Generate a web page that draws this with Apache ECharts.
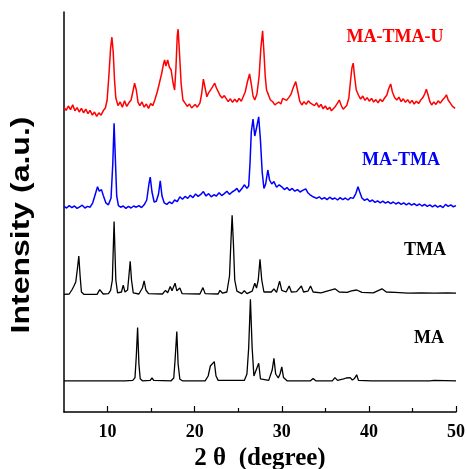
<!DOCTYPE html>
<html><head><meta charset="utf-8">
<script src="https://cdn.jsdelivr.net/npm/echarts@6/dist/echarts.min.js"></script>
<style>html,body{margin:0;padding:0;background:#fff}#c{width:467px;height:469px}</style>
</head><body><div id="c"></div>
<script>
// 2-theta tick labels
const xMajorTicks = [10, 20, 30, 40, 50];
const xMinorTicks = [15, 25, 35, 45];
const seriesNames = ['MA', 'TMA', 'MA-TMA', 'MA-TMA-U'];

// [2theta, intensity (offset, a.u.)]
const MA = [[5,7.8],[8,7.8],[12,7.8],[12.9,7.9],[13.15,8.6],[13.3,14],[13.45,21.1],[13.6,12],[13.75,8.3],[14,7.8],[14.9,7.9],[15.1,8.5],[15.3,7.9],[17.3,7.8],[17.6,8.5],[17.75,13],[17.95,20.1],[18.1,12],[18.3,8.2],[18.6,7.8],[21.2,7.8],[21.55,9],[21.8,11.5],[22.0,11.2],[22.25,12.6],[22.45,9],[22.7,7.9],[25.7,7.9],[26,9.5],[26.2,16],[26.4,28.2],[26.6,16],[26.8,9],[27.0,8.5],[27.35,12.2],[27.55,8.3],[28.5,7.9],[28.9,10.5],[29.1,13.4],[29.3,9.5],[29.6,8.5],[29.8,9.5],[30.0,11.3],[30.2,8.6],[30.6,7.8],[33.3,7.8],[33.6,8.4],[33.9,7.8],[35.8,7.8],[36.1,8.6],[36.4,7.9],[37.1,8.3],[37.4,8.5],[37.6,8.0],[37.85,8.6],[38.1,8.0],[38.35,8.4],[38.6,9.3],[38.8,7.9],[40.3,7.8],[40.5,8.2],[40.7,7.8],[44.9,7.8],[45.1,8.2],[45.3,7.8],[47.0,7.8],[47.2,8.3],[47.5,7.9],[50,7.8]];

const TMA = [[5,29.4],[5.6,29.5],[5.9,30.5],[6.1,31.3],[6.35,32.5],[6.55,36],[6.7,39],[6.85,34],[7.0,30],[7.3,29.4],[8.8,29.4],[9.1,30.6],[9.3,30.8],[9.5,29.5],[10.1,29.6],[10.35,30.4],[10.55,33],[10.75,47.6],[10.95,33],[11.15,29.8],[11.6,30],[11.8,31.7],[12.0,30],[12.3,30.5],[12.45,34],[12.6,37.7],[12.75,33],[12.95,29.8],[13.6,29.5],[14.0,31],[14.2,32.8],[14.4,30.5],[14.7,29.6],[16.3,29.5],[16.65,30.4],[16.9,29.8],[17.2,31.4],[17.4,30.3],[17.75,32.2],[17.95,30.3],[18.3,31],[18.55,29.6],[20.6,29.5],[20.95,31.1],[21.2,29.6],[22.7,29.5],[22.9,30.4],[23.2,29.7],[23.7,30],[24.0,34],[24.15,42],[24.3,49.2],[24.45,42],[24.6,33],[24.85,30.2],[25.4,29.6],[25.7,30.3],[26.0,29.6],[26.6,30.2],[26.9,32.2],[27.1,31],[27.3,33],[27.5,38.2],[27.7,33],[27.95,30],[28.8,30],[29.1,30.8],[29.4,29.9],[29.75,32.7],[30.0,30.4],[30.5,30],[30.85,31.5],[31.1,30],[31.7,30.1],[32.25,31.5],[32.5,30],[33.0,30.2],[33.3,31.5],[33.6,30],[34.5,29.8],[35.3,30.3],[36.1,30.8],[36.6,30],[37.5,29.9],[38.0,30.3],[38.6,30.5],[39.2,29.9],[40.5,29.8],[41.5,30.8],[42.0,30],[43,29.9],[44.5,29.7],[46,29.8],[47.5,29.7],[49,29.8],[50,29.7]];

const MA_TMA = [[5,51.4],[5.3,51.0],[5.6,51.6],[5.9,51.1],[6.2,51.5],[6.5,50.9],[6.8,51.3],[7.1,51.7],[7.4,51.0],[7.7,51.4],[8.0,51.2],[8.3,52.3],[8.6,54.5],[8.85,56.3],[9.05,55.2],[9.3,55.6],[9.5,54.2],[9.8,52.3],[10.1,51.8],[10.4,53.5],[10.6,62],[10.75,72.2],[10.9,63],[11.05,54],[11.25,51.6],[11.5,51.2],[11.8,51.5],[12.1,50.9],[12.4,51.4],[12.7,51.0],[13.0,51.5],[13.3,51.2],[13.6,51.6],[13.9,51.1],[14.2,51.8],[14.5,53],[14.75,57],[14.9,58.7],[15.1,55],[15.35,52.5],[15.6,52.7],[15.85,54.5],[16.05,57.8],[16.25,54],[16.5,52.3],[16.8,51.9],[17.1,52.5],[17.4,52.1],[17.7,53.0],[18.0,52.6],[18.3,53.8],[18.6,53.2],[18.9,53.9],[19.2,53.4],[19.5,54.2],[19.8,53.6],[20.1,54.5],[20.4,53.9],[20.7,54.4],[21.0,55.1],[21.3,54.0],[21.6,54.6],[21.9,53.8],[22.2,54.3],[22.5,54.0],[22.8,54.8],[23.1,54.1],[23.4,54.6],[23.7,55.2],[24.0,54.4],[24.3,55.0],[24.6,55.4],[24.85,55.9],[25.1,55.0],[25.4,55.8],[25.7,56.8],[26.0,55.9],[26.2,56.5],[26.35,62],[26.5,70],[26.7,73.2],[26.9,69],[27.1,71],[27.35,73.8],[27.55,68],[27.75,60],[27.95,55.9],[28.15,57],[28.4,60.5],[28.6,58],[28.85,57.0],[29.1,57.6],[29.4,56.2],[29.7,56.8],[30.0,56.3],[30.3,55.6],[30.6,56.1],[30.9,55.4],[31.2,55.9],[31.5,55.2],[31.8,55.6],[32.1,55.0],[32.4,55.4],[32.75,55.8],[33.0,54.8],[33.3,54.2],[33.6,53.8],[34.0,53.4],[34.3,53.8],[34.6,53.2],[34.9,53.6],[35.2,53.1],[35.5,53.7],[35.8,53.2],[36.1,53.5],[36.4,53.0],[36.7,53.6],[37.0,53.1],[37.3,53.5],[37.6,53.0],[37.9,53.6],[38.2,53.4],[38.5,54.6],[38.75,56.3],[38.95,55],[39.2,53.5],[39.5,52.9],[39.8,53.3],[40.1,52.6],[40.4,53.0],[40.7,52.4],[41.0,52.8],[41.3,52.3],[41.6,52.7],[41.9,52.2],[42.2,52.6],[42.5,52.1],[42.8,52.5],[43.1,52.0],[43.4,52.4],[43.7,51.9],[44.0,52.3],[44.3,51.8],[44.6,52.2],[44.9,51.7],[45.2,52.1],[45.5,51.6],[45.8,52.0],[46.1,51.5],[46.4,51.9],[46.7,51.4],[47.0,51.8],[47.3,51.3],[47.6,51.7],[47.9,51.2],[48.2,51.6],[48.5,51.1],[48.8,51.9],[49.1,51.4],[49.4,51.8],[49.7,51.3],[50,51.6]];

const MA_TMA_U = [[5,76.2],[5.25,75.4],[5.5,76.5],[5.75,75.6],[6.0,76.8],[6.25,75.3],[6.5,76.1],[6.75,75.0],[7.0,75.9],[7.25,74.8],[7.5,75.7],[7.75,74.6],[8.0,75.4],[8.25,74.2],[8.5,75.0],[8.75,73.9],[9.0,74.8],[9.25,74.2],[9.5,75.3],[9.75,76.0],[9.95,78],[10.15,84],[10.35,91],[10.5,93.7],[10.65,90],[10.8,83],[10.95,78.5],[11.2,76.6],[11.45,77.5],[11.7,76.2],[11.95,77.8],[12.2,76.4],[12.45,77.3],[12.7,78.0],[12.9,80],[13.1,82.2],[13.3,80.5],[13.5,77.4],[13.7,76.6],[13.95,77.5],[14.2,76.2],[14.45,77.0],[14.7,75.9],[14.95,77.1],[15.2,76.6],[15.45,78.2],[15.7,80.0],[15.95,82.2],[16.2,84.5],[16.4,86.8],[16.55,88],[16.7,86.5],[16.9,88],[17.1,86.2],[17.3,85.5],[17.5,82.5],[17.7,80.5],[17.85,86],[18.0,94],[18.1,95.7],[18.25,90],[18.45,82],[18.65,78],[18.9,77.2],[19.15,76.4],[19.4,77.0],[19.65,76.0],[19.8,76.3],[20.05,76.9],[20.3,76.2],[20.6,77.2],[20.8,79.5],[21.0,83.2],[21.2,81],[21.4,78.8],[21.6,79.8],[21.85,80.6],[22.05,81.3],[22.3,82.2],[22.5,81.0],[22.7,80.5],[22.9,79.2],[23.15,78.5],[23.4,79.1],[23.6,78.4],[23.85,77.6],[24.1,78.3],[24.35,77.4],[24.6,78.2],[24.85,77.5],[25.1,78.4],[25.35,77.7],[25.55,78],[25.8,80],[26.05,82.5],[26.3,84.5],[26.5,82],[26.7,79],[26.9,78],[27.15,79.5],[27.4,84],[27.6,91],[27.8,95.3],[27.95,90],[28.1,84],[28.25,80.5],[28.45,79.4],[28.7,78.0],[28.95,77.6],[29.2,76.8],[29.4,76.3],[29.65,77.5],[29.9,77.0],[30.1,78.4],[30.3,78.8],[30.55,77.9],[30.8,78.6],[31.05,79.4],[31.3,81],[31.6,82.6],[31.85,80],[32.05,77.8],[32.3,76.75],[32.55,77.6],[32.8,76.9],[33.05,77.8],[33.3,77.2],[33.5,77.6],[33.75,76.6],[34.0,77.3],[34.25,76.2],[34.5,76.9],[34.75,75.8],[35.0,76.5],[35.25,75.6],[35.5,76.2],[35.7,75.3],[35.9,75.1],[36.15,76.4],[36.4,77.2],[36.6,78],[36.85,76.5],[37.05,75.7],[37.2,75.5],[37.45,76.6],[37.7,78.5],[37.9,83],[38.05,86],[38.2,87.2],[38.35,84],[38.55,80.5],[38.8,79.25],[39.05,78.2],[39.3,79.0],[39.55,77.9],[39.8,78.6],[40.05,77.7],[40.3,78.4],[40.55,77.5],[40.8,78.1],[41.05,77.3],[41.3,78.2],[41.55,77.6],[41.8,78.5],[42.05,79.2],[42.3,81],[42.5,82],[42.7,80],[42.95,78.6],[43.2,78],[43.45,78.7],[43.7,77.6],[43.95,78.3],[44.2,77.4],[44.45,78.1],[44.7,77.2],[44.95,77.9],[45.2,77.0],[45.45,77.7],[45.7,77.1],[45.95,78.0],[46.2,78.6],[46.4,79.5],[46.6,80.7],[46.8,79.2],[47.0,77.6],[47.2,76.75],[47.45,77.5],[47.7,76.9],[47.95,77.8],[48.2,77.2],[48.45,78.0],[48.7,78.6],[48.9,79.3],[49.1,78.0],[49.35,77.2],[49.6,76.4],[49.9,75.9]];

const chart = echarts.init(document.getElementById('c'), null, {renderer: 'canvas'});
const serif = '"Liberation Serif", "Times New Roman", serif';
const sans = '"Liberation Sans", Arial, sans-serif';
function line(name, data, color, width) {
  return {name, type: 'line', data, xAxisIndex: 0, yAxisIndex: 0, showSymbol: false, symbol: 'none',
    lineStyle: {color, width}, itemStyle: {color}, silent: true, clip: false};
}
chart.setOption({
  animation: false,
  grid: {left: 64, right: 11, top: 12, bottom: 57, containLabel: false, outerBoundsMode: 'none'},
  xAxis: [{
    type: 'value', min: 5, max: 50, interval: 5,
    name: '2 θ  (degree)', nameLocation: 'middle', nameGap: 31,
    nameTextStyle: {fontFamily: serif, fontWeight: 'bold', fontSize: 25, color: '#000'},
    axisLine: {lineStyle: {color: '#000', width: 1.5}},
    axisTick: {inside: true, length: 6, customValues: xMajorTicks, lineStyle: {color: '#000', width: 1.2}},
    axisLabel: {customValues: xMajorTicks, margin: 11, fontFamily: serif, fontWeight: 'bold', fontSize: 18, color: '#000'},
    splitLine: {show: false}
  }, {
    type: 'value', min: 5, max: 50, interval: 5, position: 'bottom',
    axisLine: {show: false},
    axisTick: {inside: true, length: 4, customValues: xMinorTicks, lineStyle: {color: '#000', width: 1.2}},
    axisLabel: {show: false}, splitLine: {show: false}
  }],
  yAxis: {
    type: 'value', min: 0, max: 100,
    axisLine: {show: true, lineStyle: {color: '#000', width: 1.5}},
    axisTick: {show: false}, axisLabel: {show: false}, splitLine: {show: false}
  },
  series: [
    line(seriesNames[0], MA, '#000000', 1.3),
    line(seriesNames[1], TMA, '#000000', 1.3),
    line(seriesNames[2], MA_TMA, '#0000ff', 1.5),
    line(seriesNames[3], MA_TMA_U, '#ff0000', 1.5)
  ],
  graphic: [
    {type: 'text', x: 22, y: 225, rotation: Math.PI / 2, scaleX: 1.28,
      style: {text: 'Intensity (a.u.)', font: 'bold 25px ' + sans, fill: '#000', align: 'center', verticalAlign: 'middle'}},
    {type: 'text', x: 395, y: 37, style: {text: seriesNames[3], font: 'bold 18px ' + serif, fill: '#ff0000', align: 'center', verticalAlign: 'middle'}},
    {type: 'text', x: 401, y: 160, style: {text: seriesNames[2], font: 'bold 18px ' + serif, fill: '#0000ff', align: 'center', verticalAlign: 'middle'}},
    {type: 'text', x: 425, y: 250, style: {text: seriesNames[1], font: 'bold 18px ' + serif, fill: '#000', align: 'center', verticalAlign: 'middle'}},
    {type: 'text', x: 429, y: 338, style: {text: seriesNames[0], font: 'bold 18px ' + serif, fill: '#000', align: 'center', verticalAlign: 'middle'}}
  ]
});
</script></body></html>
